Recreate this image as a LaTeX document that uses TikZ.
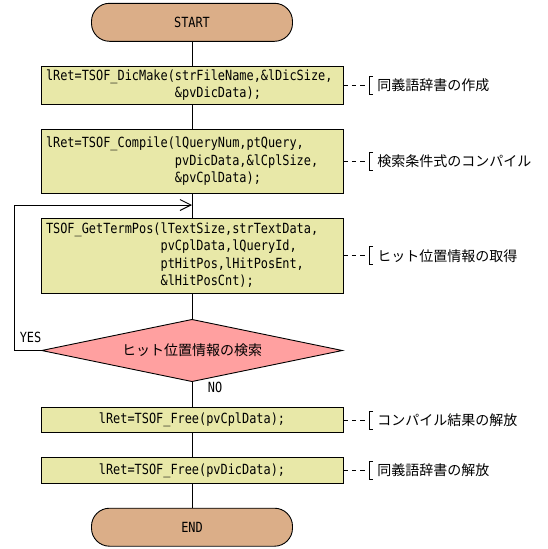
\documentclass[tikz,border=0pt]{standalone}
\usepackage{fontspec}
\newfontfamily\codefont[FakeStretch=0.85]{DejaVu Sans Mono}
\newfontfamily\jafont{Noto Sans CJK JP}
\usepackage{tikz}
\usetikzlibrary{arrows.meta,shapes.geometric}
\definecolor{termfill}{RGB}{219,174,136}
\definecolor{procfill}{RGB}{232,232,168}
\definecolor{decfill}{RGB}{255,160,160}

\begin{document}
\begin{tikzpicture}[x=1pt,y=-1pt,line width=0.9pt]
 \tikzset{term/.style = {shape=rectangle,draw,fill=termfill,rounded corners=18pt,minimum width=201pt,minimum height=38pt,font=\codefont\fontsize{14}{17}\selectfont}}
 \tikzset{proc/.style = {shape=rectangle,draw,fill=procfill,minimum width=302pt,inner xsep=5pt,text width=292pt,align=left,font=\codefont\fontsize{14}{17.3}\selectfont}}
 \tikzset{dec/.style = {shape=diamond,draw,fill=decfill,aspect=5,minimum width=301pt,minimum height=62.4pt,inner sep=0pt,font=\jafont\fontsize{14}{17}\selectfont}}
 \tikzset{lbl/.style = {inner sep=0pt,font=\codefont\fontsize{14}{17}\selectfont}}
 \tikzset{cmt/.style = {anchor=west,inner sep=0pt,font=\jafont\fontsize{14}{17}\selectfont}}
 \tikzset{note/.style = {dash pattern=on 4.5pt off 4pt}}
 \tikzset{edge/.style = {->,> = {Straight Barb[length=11pt,width=11pt]}}}
 \useasboundingbox (0,0) rectangle (548,549);
 % nodes
 \node[term] (start) at (192,22.3) {START};
 \node[proc,minimum height=37.6pt] (b1) at (192,85.5) {lRet=TSOF\_DicMake(strFileName,\&lDicSize,\\
  \phantom{lRet=TSOF\_DicMake(}\&pvDicData);};
 \node[proc,minimum height=64pt] (b2) at (192,161.3) {lRet=TSOF\_Compile(lQueryNum,ptQuery,\\
  \phantom{lRet=TSOF\_Compile(}pvDicData,\&lCplSize,\\
  \phantom{lRet=TSOF\_Compile(}\&pvCplData);};
 \node[proc,minimum height=75pt] (b3) at (192,255.8) {TSOF\_GetTermPos(lTextSize,strTextData,\\
  \phantom{TSOF\_GetTermPos(}pvCplData,lQueryId,\\
  \phantom{TSOF\_GetTermPos(}ptHitPos,lHitPosEnt,\\
  \phantom{TSOF\_GetTermPos(}\&lHitPosCnt);};
 \node[dec] (d) at (192,350.5) {ヒット位置情報の検索};
 \node[proc,align=center,minimum height=24.6pt] (b4) at (192,420) {lRet=TSOF\_Free(pvCplData);};
 \node[proc,align=center,minimum height=26pt] (b5) at (192,470.3) {lRet=TSOF\_Free(pvDicData);};
 \node[term] (end) at (192,527.2) {END};
 \node[lbl] (yes) at (30.5,337) {YES};
 \node[lbl] (no) at (215,387) {NO};

 %edges
 \draw (start) -- (b1);
 \draw (b1) -- (b2);
 \draw (b2) -- (b3);
 \draw (b3) -- (d);
 \draw (d) -- (b4);
 \draw (b4) -- (b5);
 \draw (b5) -- (end);
 \coordinate (loopleft) at (14,350.5);
 \coordinate (loopin) at (192,205);
 \draw[edge] (d.west) -- (loopleft) |- (loopin);

 % comments
 \coordinate (k1) at (369,85.5);
 \draw[note] (b1.east) -- (k1);
 \draw (k1) ++(4,-9) -- ++(-4,0) -- ++(0,18) -- ++(4,0);
 \node[cmt] (c1) at (377,85.5) {同義語辞書の作成};
 \coordinate (k2) at (369,161.3);
 \draw[note] (b2.east) -- (k2);
 \draw (k2) ++(4,-9) -- ++(-4,0) -- ++(0,18) -- ++(4,0);
 \node[cmt] (c2) at (377,161.3) {検索条件式のコンパイル};
 \coordinate (k3) at (369,255.8);
 \draw[note] (b3.east) -- (k3);
 \draw (k3) ++(4,-9) -- ++(-4,0) -- ++(0,18) -- ++(4,0);
 \node[cmt] (c3) at (377,255.8) {ヒット位置情報の取得};
 \coordinate (k4) at (369,420);
 \draw[note] (b4.east) -- (k4);
 \draw (k4) ++(4,-9) -- ++(-4,0) -- ++(0,18) -- ++(4,0);
 \node[cmt] (c4) at (377,420) {コンパイル結果の解放};
 \coordinate (k5) at (369,470.3);
 \draw[note] (b5.east) -- (k5);
 \draw (k5) ++(4,-9) -- ++(-4,0) -- ++(0,18) -- ++(4,0);
 \node[cmt] (c5) at (377,470.3) {同義語辞書の解放};
\end{tikzpicture}
\end{document}
